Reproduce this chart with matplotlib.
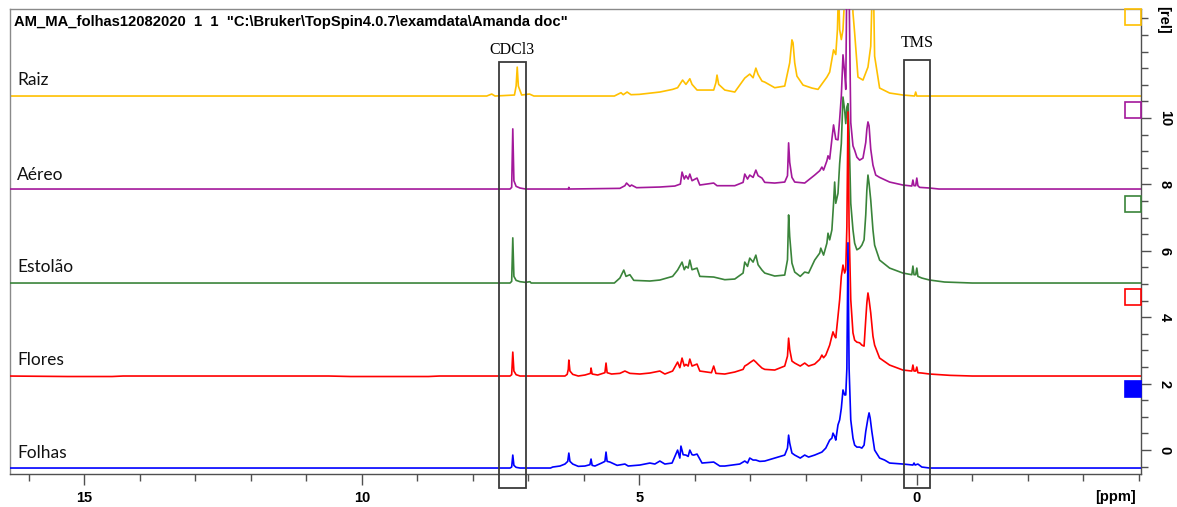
import matplotlib
matplotlib.use("Agg")
import matplotlib.pyplot as plt
from matplotlib.patches import Rectangle
from matplotlib.ticker import MultipleLocator

# ---------------- data ----------------
TITLE = 'AM_MA_folhas12082020  1  1  "C:\\Bruker\\TopSpin4.0.7\\examdata\\Amanda doc"'
SAMPLES = ["Raiz", "Aéreo", "Estolão", "Flores", "Folhas"]
X_TICKS = [15, 10, 5, 0]
Y_TICKS = [0, 2, 4, 6, 8, 10]

RAIZ_PPM = [16.4, 7.75, 7.66, 7.60, 7.25, 7.22, 7.20, 7.18, 7.12, 6.98, 6.90, 5.45, 5.33, 5.29, 5.22,
            5.15, 5.00, 4.63, 4.40, 4.31, 4.22, 4.16, 4.13, 4.09, 4.05, 3.96, 3.66, 3.62, 3.60, 3.57,
            3.46, 3.28, 3.10, 3.01, 2.95, 2.90, 2.86, 2.79, 2.74, 2.56, 2.38, 2.29, 2.25, 2.23, 2.20,
            2.16, 2.05, 1.89, 1.78, 1.62, 1.57, 1.50, 1.46, 1.43, 1.41, 1.39, 1.36, 1.33, 1.30, 1.26,
            1.24, 1.22, 1.17, 1.15, 1.12, 1.06, 0.97, 0.88, 0.83, 0.80, 0.78, 0.76, 0.67, 0.49, 0.25,
            0.04, 0.02, 0.00, -0.05, -4.1]
RAIZ_INT = [0, 0, 0.06, 0, 0.03, 0.3, 0.87, 0.3, 0.03, 0.06, 0, 0.0, 0.1, 0.04, 0.12,
            0.04, 0.05, 0.12, 0.2, 0.25, 0.48, 0.35, 0.42, 0.52, 0.35, 0.18, 0.18, 0.4, 0.63, 0.35,
            0.18, 0.12, 0.54, 0.66, 0.55, 0.84, 0.65, 0.45, 0.42, 0.25, 0.3, 1.0, 1.69, 1.6, 1.0,
            0.6, 0.33, 0.24, 0.2, 0.57, 0.72, 1.39, 1.25, 2.0, 3.3, 2.0, 1.7, 2.0, 3.0, 4.5,
            4.6, 4.0, 3.3, 2.5, 1.9, 0.57, 0.48, 0.87, 1.5, 3.4, 3.2, 1.2, 0.24, 0.09, 0.03,
            0.0, 0.12, 0.0, 0, 0]

AEREO_PPM = [16.4, 7.33, 7.30, 7.28, 7.26, 7.22, 7.15, 7.05, 6.28, 6.27, 6.26, 5.35, 5.26, 5.23, 5.17,
             5.14, 5.05, 4.63, 4.36, 4.26, 4.23, 4.19, 4.16, 4.12, 4.09, 4.05, 3.96, 3.91, 3.66, 3.60,
             3.28, 3.13, 3.10, 3.05, 3.01, 2.95, 2.90, 2.86, 2.79, 2.74, 2.56, 2.38, 2.33, 2.31, 2.29,
             2.25, 2.20, 2.02, 1.84, 1.75, 1.71, 1.68, 1.62, 1.60, 1.57, 1.53, 1.50, 1.46, 1.42, 1.39,
             1.36, 1.33, 1.30, 1.28, 1.26, 1.24, 1.22, 1.19, 1.15, 1.12, 1.08, 1.03, 0.97, 0.92, 0.90,
             0.88, 0.86, 0.83, 0.79, 0.74, 0.67, 0.49, 0.25, 0.09, 0.07, 0.05, 0.02, 0.00, -0.02, -0.05,
             -0.23, -0.4, -4.1]
AEREO_INT = [0, 0, 0.05, 1.81, 0.25, 0.08, 0.03, 0, 0, 0.05, 0, 0.02, 0.1, 0.18, 0.08,
             0.12, 0.04, 0.06, 0.09, 0.15, 0.51, 0.3, 0.4, 0.3, 0.45, 0.25, 0.33, 0.12, 0.18, 0.1,
             0.1, 0.2, 0.45, 0.3, 0.42, 0.35, 0.57, 0.4, 0.33, 0.2, 0.18, 0.21, 0.4, 1.39, 0.8,
             0.35, 0.21, 0.18, 0.42, 0.55, 0.66, 0.57, 0.85, 1.0, 0.9, 1.5, 1.93, 1.5, 1.48, 2.1,
             2.8, 4.04, 3.5, 3.0, 6.5, 6.8, 6.0, 2.0, 1.3, 1.17, 0.96, 0.87, 0.93, 1.4, 1.8,
             2.02, 1.9, 1.2, 0.72, 0.42, 0.35, 0.21, 0.12, 0.09, 0.27, 0.1, 0.1, 0.33, 0.1, 0.05,
             0.03, 0, 0]

ESTOLAO_PPM = [16.4, 7.33, 7.30, 7.28, 7.26, 7.22, 7.15, 7.05, 6.97, 6.95, 5.45, 5.35, 5.28, 5.24, 5.17,
               5.10, 4.81, 4.63, 4.40, 4.31, 4.23, 4.19, 4.16, 4.12, 4.09, 4.05, 3.96, 3.91, 3.66, 3.46,
               3.28, 3.13, 3.10, 3.05, 3.01, 2.95, 2.90, 2.86, 2.79, 2.74, 2.56, 2.38, 2.33, 2.31, 2.29,
               2.25, 2.20, 2.10, 2.02, 1.95, 1.84, 1.75, 1.73, 1.68, 1.62, 1.60, 1.57, 1.53, 1.50, 1.48,
               1.46, 1.42, 1.39, 1.36, 1.33, 1.30, 1.28, 1.26, 1.24, 1.22, 1.19, 1.15, 1.12, 1.08, 1.03,
               0.99, 0.95, 0.92, 0.90, 0.88, 0.86, 0.83, 0.79, 0.76, 0.67, 0.49, 0.25, 0.09, 0.07, 0.05,
               0.02, 0.00, -0.02, -0.09, -0.23, -0.5, -1.0, -4.1]
ESTOLAO_INT = [0, 0, 0.05, 1.36, 0.2, 0.08, 0.04, 0.02, 0.04, 0, 0, 0.15, 0.39, 0.2, 0.25,
               0.08, 0.06, 0.09, 0.2, 0.39, 0.63, 0.4, 0.5, 0.45, 0.69, 0.4, 0.45, 0.2, 0.18, 0.1,
               0.12, 0.3, 0.63, 0.5, 0.75, 0.63, 0.84, 0.55, 0.39, 0.3, 0.21, 0.24, 0.7, 2.05, 1.4,
               0.6, 0.33, 0.2, 0.33, 0.3, 0.69, 0.9, 1.05, 0.84, 1.2, 1.5, 1.3, 1.6, 2.4, 3.04,
               2.4, 2.7, 3.6, 4.2, 5.6, 5.2, 4.8, 5.3, 5.4, 4.5, 2.4, 1.6, 1.2, 1.0, 1.05,
               1.14, 1.3, 2.05, 2.8, 3.25, 3.0, 2.5, 1.6, 1.14, 0.69, 0.45, 0.3, 0.25, 0.51, 0.25,
               0.25, 0.45, 0.2, 0.15, 0.09, 0.03, 0, 0]

FLORES_PPM = [16.4, 15.3, 14.5, 14.3, 10.6, 10.2, 8.8, 8.6, 7.33, 7.30, 7.28, 7.26, 7.22, 7.15, 6.34,
              6.30, 6.28, 6.27, 6.25, 6.20, 6.10, 5.98, 5.88, 5.87, 5.85, 5.75, 5.62, 5.60, 5.58, 5.50,
              5.35, 5.26, 5.17, 4.99, 4.81, 4.72, 4.63, 4.54, 4.40, 4.31, 4.27, 4.23, 4.19, 4.16, 4.12,
              4.09, 4.05, 3.96, 3.91, 3.70, 3.66, 3.62, 3.46, 3.28, 3.13, 3.10, 3.05, 3.01, 2.94, 2.90,
              2.86, 2.79, 2.74, 2.56, 2.38, 2.33, 2.31, 2.29, 2.25, 2.20, 2.10, 2.02, 1.95, 1.84, 1.75,
              1.71, 1.68, 1.64, 1.60, 1.57, 1.53, 1.51, 1.48, 1.46, 1.42, 1.39, 1.36, 1.33, 1.30, 1.28,
              1.26, 1.24, 1.22, 1.19, 1.15, 1.12, 1.08, 1.03, 0.99, 0.95, 0.92, 0.90, 0.88, 0.86, 0.83,
              0.79, 0.76, 0.67, 0.49, 0.25, 0.09, 0.07, 0.05, 0.02, 0.00, -0.02, -0.09, -0.23, -0.6, -1.0,
              -4.1]
FLORES_INT = [0, -0.015, -0.015, 0, 0, -0.015, -0.015, 0, 0, 0.04, 0.72, 0.15, 0.04, 0, 0,
              0.05, 0.2, 0.48, 0.15, 0.05, 0.0, 0.03, 0.08, 0.24, 0.06, 0.03, 0.1, 0.39, 0.1, 0.06,
              0.08, 0.15, 0.08, 0.06, 0.09, 0.12, 0.15, 0.06, 0.15, 0.42, 0.25, 0.54, 0.3, 0.35, 0.3,
              0.51, 0.3, 0.36, 0.15, 0.1, 0.3, 0.08, 0.06, 0.12, 0.2, 0.3, 0.35, 0.4, 0.48, 0.42,
              0.35, 0.24, 0.2, 0.18, 0.3, 0.6, 1.14, 0.8, 0.45, 0.39, 0.3, 0.39, 0.3, 0.36, 0.5,
              0.63, 0.55, 0.63, 0.8, 0.93, 1.2, 1.33, 1.2, 1.15, 1.8, 2.3, 3.0, 3.34, 3.1, 3.2,
              4.5, 7.95, 4.5, 2.3, 1.3, 1.08, 1.02, 1.0, 0.93, 0.9, 1.7, 2.2, 2.5, 2.3, 1.9,
              1.2, 0.93, 0.54, 0.33, 0.18, 0.15, 0.33, 0.15, 0.15, 0.27, 0.1, 0.09, 0.06, 0.02, 0,
              0]

FOLHAS_PPM = [16.4, 7.33, 7.30, 7.28, 7.26, 7.22, 7.15, 6.6, 6.56, 6.43, 6.34, 6.29, 6.27, 6.25, 6.20,
              6.10, 5.98, 5.89, 5.87, 5.85, 5.80, 5.68, 5.62, 5.60, 5.58, 5.53, 5.40, 5.26, 5.20, 4.99,
              4.81, 4.72, 4.63, 4.54, 4.41, 4.31, 4.27, 4.25, 4.21, 4.16, 4.12, 4.09, 4.05, 4.02, 3.96,
              3.87, 3.66, 3.55, 3.46, 3.19, 3.10, 3.05, 3.01, 2.95, 2.90, 2.83, 2.74, 2.56, 2.38, 2.33,
              2.31, 2.29, 2.25, 2.20, 2.10, 2.02, 1.95, 1.84, 1.71, 1.64, 1.57, 1.53, 1.51, 1.48, 1.46,
              1.42, 1.39, 1.36, 1.33, 1.30, 1.28, 1.26, 1.24, 1.22, 1.19, 1.15, 1.12, 1.08, 1.03, 0.99,
              0.95, 0.92, 0.88, 0.86, 0.84, 0.81, 0.76, 0.67, 0.58, 0.49, 0.25, 0.07, 0.05, 0.03, -0.02,
              -0.09, -0.23, -4.1]
FOLHAS_INT = [0, 0, 0.03, 0.39, 0.08, 0.02, 0, 0, 0.03, 0.06, 0.12, 0.2, 0.45, 0.2, 0.12,
              0.05, 0.06, 0.1, 0.27, 0.08, 0.06, 0.15, 0.2, 0.48, 0.2, 0.18, 0.08, 0.12, 0.06, 0.09,
              0.15, 0.12, 0.21, 0.12, 0.15, 0.54, 0.3, 0.66, 0.4, 0.39, 0.35, 0.54, 0.4, 0.39, 0.42,
              0.15, 0.18, 0.06, 0.06, 0.12, 0.21, 0.15, 0.3, 0.24, 0.24, 0.2, 0.21, 0.3, 0.39, 0.6,
              0.99, 0.75, 0.45, 0.39, 0.3, 0.39, 0.33, 0.39, 0.48, 0.6, 0.84, 0.9, 1.05, 0.95, 0.84,
              1.3, 1.45, 1.8, 2.35, 2.2, 2.2, 3.0, 6.78, 3.0, 1.45, 0.9, 0.69, 0.63, 0.63, 0.6,
              0.69, 1.1, 1.5, 1.66, 1.5, 1.1, 0.54, 0.3, 0.24, 0.15, 0.12, 0.09, 0.15, 0.09, 0.12,
              0.03, 0.0, 0]

# ---------------- layout / style ----------------
W, H = 1177, 507
OFFSETS = [10.66, 7.86, 5.03, 2.23, -0.54]
COLORS = ["#FFC000", "#A3189B", "#3A843A", "#FF0000", "#0000FF"]
LABEL_Y_PX = [80, 175, 267, 360, 453]

fig = plt.figure(figsize=(W / 100, H / 100), dpi=100)
ax = fig.add_axes([10 / W, 1 - 474 / H, (1141 - 10) / W, (474 - 9) / H])
ax.set_xlim(16.34, -4.04)
ax.set_ylim(-0.72, 13.28)

traces = [(RAIZ_PPM, RAIZ_INT), (AEREO_PPM, AEREO_INT), (ESTOLAO_PPM, ESTOLAO_INT),
          (FLORES_PPM, FLORES_INT), (FOLHAS_PPM, FOLHAS_INT)]
for i, ((px, iy), off, col) in enumerate(zip(traces, OFFSETS, COLORS)):
    ax.plot(px, [v + off for v in iy], color=col, lw=1.2, zorder=2 + i)

# sample labels
for name, ypx in zip(SAMPLES, LABEL_Y_PX):
    fig.text(17 / W, 1 - ypx / H, name, fontsize=12.5, family="Lato",
             ha="left", va="center", color="#111111")

# title
fig.text(14 / W, 1 - 22 / H, TITLE, fontsize=10.6, family="Liberation Sans",
         fontweight="bold", ha="left", va="center")

# reference boxes
ax.add_patch(Rectangle((7.53, -1.14), 7.05 - 7.53, 11.69 + 1.14, fill=False,
                       ec="#3a3a3a", lw=1.3, clip_on=False, zorder=10))
ax.add_patch(Rectangle((0.234, -1.14), -0.468, 11.75 + 1.14, fill=False,
                       ec="#3a3a3a", lw=1.3, clip_on=False, zorder=10))
ax.text(7.29, 12.05, "CDCl3", family="Liberation Serif", fontsize=11.5,
        ha="center", va="center")
ax.text(0.0, 12.26, "TMS", family="Liberation Serif", fontsize=11.5,
        ha="center", va="center")

# colored spectrum markers on the right
for i, (off, col) in enumerate(zip(OFFSETS, COLORS)):
    filled = (i == len(OFFSETS) - 1)
    ax.add_patch(Rectangle((-3.75, off + 2.14), -0.29, 0.48, fill=filled,
                           fc=col if filled else "none", ec=col, lw=1.2,
                           clip_on=False, zorder=11))

# axes styling
for s in ["top", "left"]:
    ax.spines[s].set_color("#8a8a8a")
    ax.spines[s].set_linewidth(1.0)
for s in ["right", "bottom"]:
    ax.spines[s].set_color("#505050")
    ax.spines[s].set_linewidth(1.0)

ax.set_xticks(X_TICKS, labels=[str(t) for t in X_TICKS], fontweight="bold",
              family="Liberation Sans", fontsize=10.5)
ax.xaxis.set_minor_locator(MultipleLocator(1))
ax.tick_params(axis="x", which="major", length=8, width=1, color="#505050", pad=4)
ax.tick_params(axis="x", which="minor", length=5, width=1, color="#505050")

ax.yaxis.tick_right()
ax.set_yticks(Y_TICKS, labels=[str(t) for t in Y_TICKS], fontweight="bold",
              family="Liberation Sans", fontsize=10.5, rotation=-90)
ax.yaxis.set_minor_locator(MultipleLocator(0.5))
ax.tick_params(axis="y", which="major", length=7, width=1, color="#505050", pad=5)
ax.tick_params(axis="y", which="minor", length=5, width=1, color="#505050")
for lbl in ax.get_yticklabels():
    lbl.set_va("center")

fig.text(1115 / W, 1 - 497 / H, "[ppm]", fontsize=10.5, family="Liberation Sans",
         fontweight="bold", ha="center", va="center")
fig.text(1163 / W, 1 - 20 / H, "[rel]", fontsize=10.5, family="Liberation Sans",
         fontweight="bold", ha="center", va="center", rotation=-90)

fig.savefig("out.png", dpi=100)
